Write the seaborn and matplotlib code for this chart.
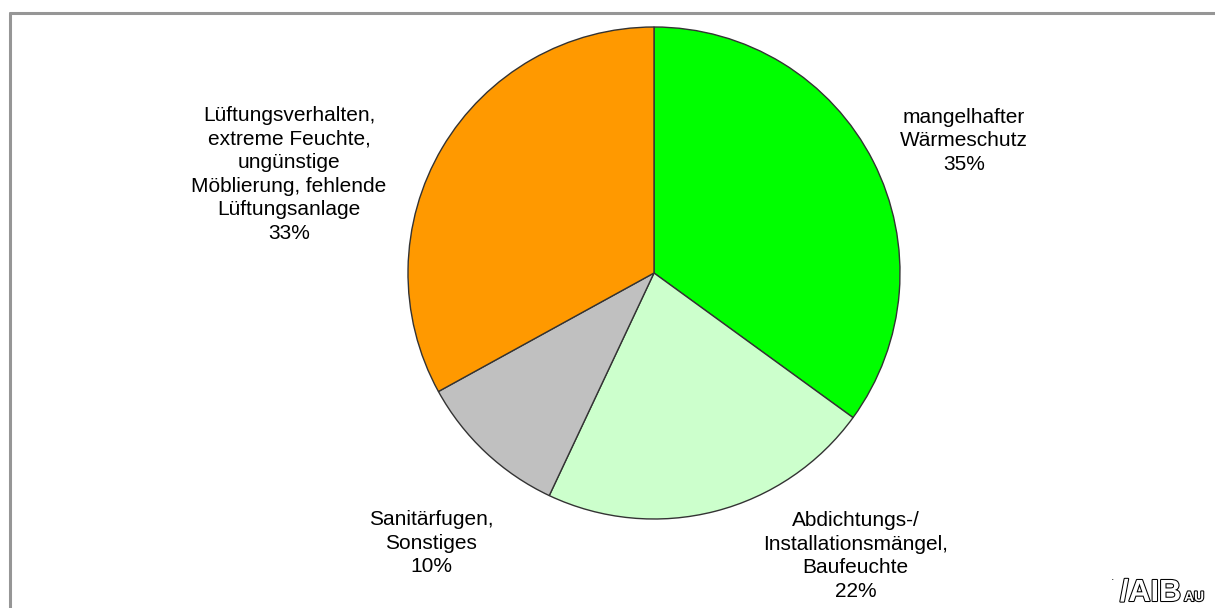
import matplotlib
matplotlib.use("Agg")
import matplotlib.pyplot as plt
import matplotlib.patheffects as pe
import seaborn as sns

labels = [
    "mangelhafter\nWärmeschutz",
    "Abdichtungs-/\nInstallationsmängel,\nBaufeuchte",
    "Sanitärfugen,\nSonstiges",
    "Lüftungsverhalten,\nextreme Feuchte,\nungünstige\nMöblierung, fehlende\nLüftungsanlage",
]
anteile = [35, 22, 10, 33]
farben = ["#00FF00", "#CCFFCC", "#C0C0C0", "#FF9900"]
# label centres in pie-radius units
label_pos = [(1.26, 0.537), (0.82, -1.15), (-0.905, -1.098), (-1.484, 0.40)]

sns.set_theme(style="white")
plt.rcParams["font.family"] = ["Liberation Sans", "DejaVu Sans"]

W, H = 1215, 608
fig = plt.figure(figsize=(W / 100, H / 100), dpi=100)
fig.patch.set_facecolor("white")

# outer frame (top and left edges visible)
fig.add_artist(plt.Line2D([9.5 / W, 1.0], [1 - 12.5 / H, 1 - 12.5 / H],
                          color="#969696", lw=2.2, transform=fig.transFigure))
fig.add_artist(plt.Line2D([9.5 / W, 9.5 / W], [0.0, 1 - 12.5 / H],
                          color="#969696", lw=2.2, transform=fig.transFigure))

cx, cy, r = 654, 273, 246
ax = fig.add_axes([(cx - r) / W, (H - cy - r) / H, 2 * r / W, 2 * r / H])
ax.pie(anteile, colors=farben, startangle=90, counterclock=False,
       wedgeprops=dict(edgecolor="#333333", linewidth=1.0))
ax.set_xlim(-1, 1)
ax.set_ylim(-1, 1)
ax.set_aspect("equal")
ax.axis("off")

for lab, val, (x, y) in zip(labels, anteile, label_pos):
    ax.text(x, y, f"{lab}\n{val}%", ha="center", va="center", fontsize=15,
            linespacing=1.3, color="black", clip_on=False)

# AIBau logo (approximation)
fig.text(1113 / W, 1 - 583 / H, ".", fontsize=9, ha="center", va="bottom")
stroke = [pe.withStroke(linewidth=1.5, foreground="black")]
t1 = fig.text(1120 / W, 1 - 601 / H, "/AIB", fontsize=22, fontweight="bold",
              ha="left", va="baseline", color="white")
t1.set_path_effects(stroke)
t2 = fig.text(1184 / W, 1 - 601 / H, "AU", fontsize=10, fontweight="bold",
              ha="left", va="baseline", color="white")
t2.set_path_effects(stroke)

fig.savefig("out.png", dpi=100, facecolor="white")
